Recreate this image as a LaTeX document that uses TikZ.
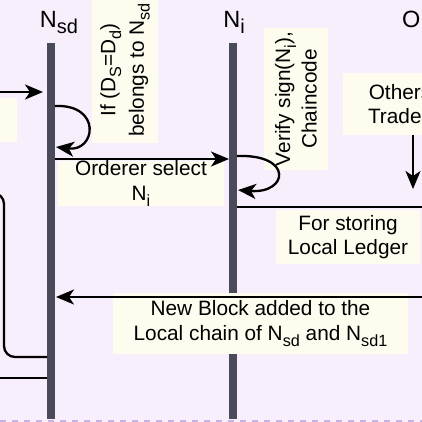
\documentclass[tikz,border=0pt]{standalone}
\usepackage{fontspec}
\setmainfont{Liberation Sans}
\usetikzlibrary{arrows.meta}
\definecolor{bgc}{HTML}{F7EFFB}
\definecolor{cream}{HTML}{FDFCEF}
\definecolor{lifec}{HTML}{4B4A5A}
\definecolor{dashc}{HTML}{C9B2E6}
\newcommand{\lsub}[1]{\raisebox{-0.28em}{\scalebox{0.78}{#1}}}
\newcommand{\hsub}[1]{\raisebox{-0.25em}{\scalebox{0.85}{#1}}}
\begin{document}
\begin{tikzpicture}[x=1pt,y=-1pt,
  txt/.style={font=\fontsize{20.8}{24.5}\selectfont, align=center, inner sep=0pt},
  lbl/.style={txt, fill=cream},
  lifeline/.style={line width=8pt, draw=lifec},
  conn/.style={line width=2.3pt, draw=black},
  arr/.style={conn, -{Stealth[length=18pt,width=15pt,inset=5pt]}},
  head/.style={font=\fontsize{23.5}{27}\selectfont, inner sep=0pt}]
\useasboundingbox (0,0) rectangle (422,422);
\fill[bgc] (0,0) rectangle (422,422);
\begin{scope}
\clip (0,0) rectangle (422,422);
% lifelines
\coordinate (sdtop) at (51,43); \coordinate (sdbot) at (51,419);
\coordinate (itop) at (233,43); \coordinate (ibot) at (233,419);
\draw[lifeline] (sdtop) -- (sdbot);
\draw[lifeline] (itop) -- (ibot);
\coordinate (dl) at (0,421); \coordinate (dr) at (422,421);
\draw[dashc, line width=3pt, dash pattern=on 6pt off 6pt] (dl) -- (dr);
% headers
\node[head, anchor=base] (hsd) at (59,28) {N\hsub{sd}};
\node[head, anchor=base] (hi) at (234,28) {N\hsub{i}};
\node[head, anchor=base west] (ho) at (402,28) {O};
% labels
\node[fill=cream, minimum width=17pt, minimum height=44pt, inner sep=0pt, anchor=north west] (lcut) at (0,98) {};
\node[lbl, rotate=90, minimum width=146pt, minimum height=66pt] (cond) at (125,70) {If (D\lsub{S}=D\lsub{d})\\[4pt]belongs to N\lsub{sd}};
\node[lbl, rotate=90, minimum width=142pt, minimum height=64pt] (verify) at (296,99) {Verify sign(N\lsub{i}),\\[2pt]Chaincode};
\node[lbl, minimum width=166pt, minimum height=43pt] (ord) at (141,183.5) {Orderer select\\N\lsub{i}};
\node[lbl, minimum width=114pt, minimum height=62pt] (oth) at (400,104) {Others\\Trades};
\node[lbl, minimum width=144pt, minimum height=54pt] (store) at (348,237) {For storing\\Local Ledger};
\node[lbl, minimum width=295pt, minimum height=61pt] (newb) at (260.5,323.5) {New Block added to the\\Local chain of N\lsub{sd} and N\lsub{sd1}};
% connectors
\coordinate (lin) at (-5,92); \coordinate (sdin) at (43,92);
\draw[arr] (lin) -- (sdin);
\coordinate (sdl1) at (55,106); \coordinate (sdl2) at (56,147);
\draw[arr] (sdl1) .. controls (102,104) and (96,152) .. (sdl2);
\coordinate (sdo) at (55,159); \coordinate (io) at (229,159);
\draw[arr] (sdo) -- (io);
\coordinate (il1) at (237,156); \coordinate (il2) at (238,190);
\draw[arr] (il1) .. controls (294,154) and (288,194) .. (il2);
\coordinate (ist) at (237,207); \coordinate (rst) at (430,207);
\draw[conn] (ist) -- (rst);
\coordinate (othb) at (413,135); \coordinate (othd) at (413,189);
\draw[arr] (othb) -- (othd);
\coordinate (rnb) at (430,297); \coordinate (sdnb) at (56,297);
\draw[arr] (rnb) -- (sdnb);
\coordinate (lt) at (-20,193); \coordinate (lc1) at (4,193); \coordinate (lc2) at (4,357); \coordinate (sdl) at (47,357);
\draw[conn, rounded corners=11pt] (lt) -- (lc1) -- (lc2) -- (sdl);
\coordinate (lb) at (-5,378); \coordinate (sdlb) at (47,378);
\draw[conn] (lb) -- (sdlb);
\end{scope}
\end{tikzpicture}
\end{document}
